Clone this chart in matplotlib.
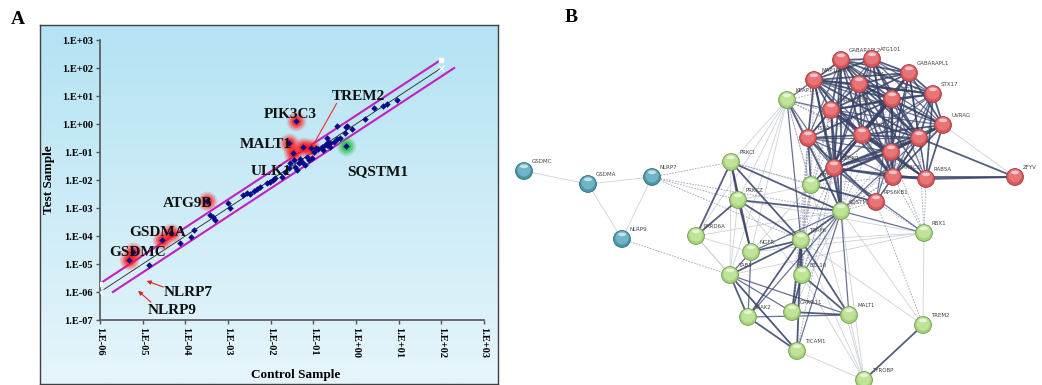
import matplotlib.pyplot as plt
import numpy as np
from matplotlib.patches import Circle, Ellipse
from matplotlib.colors import LinearSegmentedColormap

W, H = 1042, 385
plt.rcParams['font.family'] = ['Liberation Serif', 'DejaVu Serif']

# ---------------- A: control vs test expression (log10 values) ----------------
ctrl_log10 = [-4.84, -4.12, -3.86, -3.79, -3.43, -3.34, -3.30, -2.99, -2.95, -2.64,
              -2.56, -2.48, -2.40, -2.32, -2.26, -2.08, -2.01, -1.94, -1.89, -1.74,
              -1.66, -1.58, -1.54, -1.46, -1.42, -1.38, -1.34, -1.31, -1.27, -1.20,
              -1.16, -1.11, -1.03, -0.99, -0.93, -0.90, -0.80, -0.77, -0.72, -0.69,
              -0.66, -0.60, -0.60, -0.52, -0.68, -0.44, -0.44, -0.38, -0.25, -0.21,
              -0.23, -0.09, 0.20, 0.42, 0.64, 0.72, 0.95]
test_log10 = [-5.04, -4.24, -4.05, -3.79, -3.25, -3.31, -3.43, -2.81, -3.01, -2.54,
              -2.48, -2.50, -2.40, -2.32, -2.26, -2.10, -2.06, -2.00, -1.94, -1.88,
              -1.70, -1.58, -1.40, -1.29, -1.52, -1.64, -1.40, -1.26, -1.35, -1.45,
              -1.17, -1.29, -1.23, -0.99, -0.85, -0.90, -0.81, -0.93, -0.75, -0.75,
              -0.63, -0.69, -0.81, -0.63, -0.51, -0.55, -0.07, -0.51, -0.33, -0.07,
              -0.10, -0.19, 0.17, 0.56, 0.64, 0.70, 0.87]

# up-regulated genes (red glow) and down-regulated (green glow)
up_ctrl_log10 = [-5.31, -5.22, -4.55, -4.34, -3.50, -1.40, -1.58, -1.48, -1.25, -1.05]
up_test_log10 = [-4.86, -4.56, -4.13, -3.90, -2.74, 0.12, -0.69, -1.03, -0.82, -0.86]
down_ctrl_log10 = [-0.23]
down_test_log10 = [-0.80]

fold = 2
x_decades = list(range(-6, 4))
y_decades = list(range(-7, 4))

# gene labels and where they sit (figure pixels)
gene_labels = ['PIK3C3', 'TREM2', 'MALT1', 'ULK1', 'SQSTM1', 'ATG9B', 'GSDMA', 'GSDMC', 'NLRP7', 'NLRP9']
label_px = [(290, 114), (358, 96), (266, 144), (271, 172), (378, 172), (188, 204),
            (158, 233), (138, 253), (188, 293), (172, 311)]


def fp(x, y):
    return (x / W, 1 - y / H)


fig = plt.figure(figsize=(W / 100, H / 100), dpi=100)

# gradient panel behind A
bg = fig.add_axes([40 / W, 1 / H, 458 / W, 359 / H])
grad = np.linspace(0, 1, 256).reshape(-1, 1)
cmap = LinearSegmentedColormap.from_list('sky', ['#b4e3f3', '#e6f5fb'])
bg.imshow(grad, aspect='auto', cmap=cmap, extent=[0, 1, 0, 1])
bg.set_xticks([])
bg.set_yticks([])
for s in bg.spines.values():
    s.set_color('#404040')
    s.set_linewidth(1)

ax = fig.add_axes([100 / W, 1 - 320 / H, 384 / W, 280 / H])
ax.patch.set_visible(False)
ax.set_xscale('log')
ax.set_yscale('log')
ax.set_xlim(1e-6, 1e3)
ax.set_ylim(1e-7, 1e3)
for side in ['top', 'right']:
    ax.spines[side].set_visible(False)
for side in ['left', 'bottom']:
    ax.spines[side].set_color('#555555')
    ax.spines[side].set_linewidth(1.2)
ax.set_xticks([10.0 ** e for e in x_decades])
ax.set_xticklabels(['1.E{:+03d}'.format(e) for e in x_decades], rotation=270,
                   fontsize=7.5, fontweight='bold')
ax.set_yticks([10.0 ** e for e in y_decades])
ax.set_yticklabels(['1.E{:+03d}'.format(e) for e in y_decades], fontsize=7.5, fontweight='bold')
ax.minorticks_off()
ax.tick_params(direction='out', length=3, width=1, color='#555555', pad=2)

ax.set_xlabel('Control Sample', fontsize=9.5, fontweight='bold')
ax.xaxis.set_label_coords(0.51, -0.175)
ax.set_ylabel('Test Sample', fontsize=9.5, fontweight='bold')
ax.yaxis.set_label_coords(-0.118, 0.5)

# diagonal and fold-change boundaries
lo, hi = 1e-6, 1e2
ax.plot([lo, hi], [lo, hi], color='#222222', lw=0.6, zorder=2)
ax.plot([lo, hi], [lo * fold, hi * fold], color='#c21fc2', lw=1.5, zorder=2)
ax.plot([lo * fold, hi * fold], [lo, hi], color='#c21fc2', lw=1.5, zorder=2)
ax.plot([lo, hi], [lo, hi], ls='none', marker='x', ms=5, mew=0.8, color='white', zorder=3)
ax.plot([lo, hi], [lo * fold, hi * fold], ls='none', marker='s', ms=3.5, color='white', zorder=3)

ux = 10.0 ** np.array(up_ctrl_log10)
uy = 10.0 ** np.array(up_test_log10)
dx = 10.0 ** np.array(down_ctrl_log10)
dy = 10.0 ** np.array(down_test_log10)
for s, a in [(200, 0.15), (140, 0.25), (85, 0.4), (45, 0.6)]:
    ax.scatter(ux, uy, s=s, color='#ff1a1a', alpha=a, lw=0, zorder=3)
    ax.scatter(dx, dy, s=s, color='#1fbf3f', alpha=a, lw=0, zorder=3)

ax.scatter(10.0 ** np.array(ctrl_log10), 10.0 ** np.array(test_log10), marker='D', s=11,
           color='#0a0a8a', lw=0, zorder=4)
ax.scatter(ux, uy, marker='D', s=11, color='#0a0a8a', lw=0, zorder=4)
ax.scatter(dx, dy, marker='D', s=11, color='#0a0a8a', lw=0, zorder=4)

for name, (px, py) in zip(gene_labels, label_px):
    fig.text(*fp(px, py), name, ha='center', va='center', fontsize=11, fontweight='bold',
             color='#111111')

ax.annotate('', xy=fp(312, 147), xytext=fp(338, 101), xycoords='figure fraction',
            textcoords='figure fraction', arrowprops=dict(arrowstyle='-', color='#ff2a2a', lw=0.8))
ax.annotate('', xy=fp(144, 280), xytext=fp(166, 288), xycoords='figure fraction',
            textcoords='figure fraction',
            arrowprops=dict(arrowstyle='-|>', color='#e82020', lw=0.8, mutation_scale=6))
ax.annotate('', xy=fp(136, 289), xytext=fp(153, 304), xycoords='figure fraction',
            textcoords='figure fraction',
            arrowprops=dict(arrowstyle='-|>', color='#e82020', lw=0.8, mutation_scale=6))

fig.text(*fp(18, 19), 'A', fontsize=14, fontweight='bold', ha='center', va='center')
fig.text(*fp(571, 18), 'B', fontsize=14, fontweight='bold', ha='center', va='center')

# ---------------- B: STRING interaction network ----------------
layout = {
    'GSDMC': (524, 171), 'GSDMA': (588, 184), 'NLRP7': (652, 177), 'NLRP9': (622, 239),
    'PRKCI': (731, 162), 'PRKCZ': (738, 200), 'PARD6A': (696, 236), 'NGFR': (751, 252),
    'TRAF6': (801, 240), 'TAB1': (730, 275), 'BCL10': (802, 275), 'IRAK2': (748, 317),
    'CARD11': (792, 312), 'MALT1': (849, 315), 'TICAM1': (797, 351), 'TYROBP': (864, 380),
    'TREM2': (923, 325), 'RBX1': (924, 233), 'SQSTM1': (841, 211), 'MTOR': (811, 185),
    'KEAP1': (787, 100),
    'GABARAPL2': (841, 60), 'ATG101': (872, 59), 'GABARAPL1': (909, 73), 'MAP1LC3A': (814, 80),
    'ATG14': (859, 84), 'ATG13': (892, 99), 'STX17': (933, 94), 'MAP1LC3B': (831, 110),
    'UVRAG': (943, 125), 'TSC2': (808, 138), 'PIK3R4': (862, 135), 'ULK1': (919, 138),
    'RB1CC1': (891, 152), 'BECN1': (834, 168), 'PIK3C3': (893, 177), 'RAB5A': (926, 179),
    'RPS6KB1': (876, 202), 'ZFYVE26': (1015, 177),
}
# the figure edge crops this label
shown_label = {'ZFYVE26': 'ZFYV'}
blue_nodes = ['GSDMC', 'GSDMA', 'NLRP7', 'NLRP9']
red_nodes = ['GABARAPL2', 'ATG101', 'GABARAPL1', 'MAP1LC3A', 'ATG14', 'ATG13', 'STX17',
             'MAP1LC3B', 'UVRAG', 'TSC2', 'PIK3R4', 'ULK1', 'RB1CC1', 'BECN1', 'PIK3C3',
             'RAB5A', 'RPS6KB1', 'ZFYVE26']

strong_edges = """
BECN1 PIK3C3 PIK3R4 ATG14 UVRAG RB1CC1 ULK1 MAP1LC3A MAP1LC3B GABARAPL2 ATG13 GABARAPL1 RAB5A
PIK3C3 PIK3R4 ATG14 UVRAG RB1CC1 RAB5A ZFYVE26 ULK1 ATG13 MAP1LC3B
PIK3R4 ATG14 UVRAG RB1CC1 ULK1 MAP1LC3A MAP1LC3B ATG13 GABARAPL2 RAB5A
ULK1 ATG13 ATG101 RB1CC1 MAP1LC3A MAP1LC3B GABARAPL1 GABARAPL2 ATG14 STX17 UVRAG ZFYVE26
ATG13 ATG101 RB1CC1 MAP1LC3A MAP1LC3B GABARAPL1 GABARAPL2 ATG14 STX17 TSC2
ATG101 RB1CC1 GABARAPL1 GABARAPL2 MAP1LC3A ATG14
MAP1LC3A MAP1LC3B GABARAPL2 GABARAPL1 ATG14 TSC2 STX17
MAP1LC3B GABARAPL2 GABARAPL1 ATG14 RB1CC1 STX17 TSC2
GABARAPL1 GABARAPL2 STX17 ATG14 RB1CC1 UVRAG
GABARAPL2 STX17 ATG14
STX17 UVRAG ATG14 RAB5A
UVRAG RAB5A RB1CC1 ATG14
RAB5A ZFYVE26 RB1CC1
TSC2 RPS6KB1 MTOR PIK3R4
MTOR ULK1 ATG13 RPS6KB1 RB1CC1
SQSTM1 KEAP1 MAP1LC3A MAP1LC3B GABARAPL2 TRAF6 PRKCI PRKCZ
PRKCI PRKCZ PARD6A TRAF6 NGFR
PRKCZ PARD6A TRAF6 NGFR
TRAF6 NGFR TAB1 BCL10 CARD11 MALT1 IRAK2 TICAM1
BCL10 CARD11 MALT1
CARD11 MALT1
TAB1 IRAK2 TICAM1
IRAK2 TICAM1
TREM2 TYROBP
"""
medium_edges = """
RPS6KB1 ULK1 PIK3C3 BECN1 RB1CC1 ATG13
TSC2 ULK1 BECN1 RB1CC1 GABARAPL2 ATG101 PIK3C3
MAP1LC3A RB1CC1 UVRAG PIK3C3
MAP1LC3B UVRAG PIK3C3 RAB5A
GABARAPL2 UVRAG PIK3C3 RAB5A
ATG101 UVRAG PIK3R4 BECN1 STX17 PIK3C3
ATG14 RAB5A RB1CC1
STX17 RB1CC1 PIK3C3 BECN1 PIK3R4
ATG13 UVRAG PIK3C3 RAB5A
GABARAPL1 PIK3C3 RAB5A PIK3R4
ULK1 RAB5A
KEAP1 SQSTM1 TRAF6 BECN1 MAP1LC3B
RBX1 BECN1 SQSTM1
SQSTM1 ULK1 BECN1 BCL10 MALT1 TICAM1 IRAK2 NGFR
TAB1 MALT1 CARD11 NGFR
IRAK2 MALT1
NGFR IRAK2
MAP1LC3A KEAP1
"""
weak_edges = """
GSDMC GSDMA
GSDMA NLRP7 NLRP9
NLRP7 NLRP9
UVRAG ZFYVE26
TYROBP TICAM1 SQSTM1 TRAF6 BCL10 KEAP1 MALT1
TREM2 SQSTM1 TRAF6 RBX1
RBX1 TRAF6 PRKCZ NGFR TAB1
PARD6A TAB1 NGFR TICAM1
PRKCI KEAP1 MTOR TAB1
PRKCZ KEAP1 MTOR BCL10 TAB1
KEAP1 TAB1 NGFR PARD6A
MTOR TRAF6 TAB1
SQSTM1 PARD6A CARD11
"""
dashed_edges = """
NLRP7 PRKCI TRAF6 SQSTM1 PRKCZ
NLRP9 TAB1
KEAP1 MAP1LC3A TSC2 BECN1 PIK3R4 ULK1 MTOR GABARAPL2 ATG14 RB1CC1
MTOR BECN1 PIK3C3 TSC2 MAP1LC3B PIK3R4 MAP1LC3A ATG14
SQSTM1 BECN1 PIK3C3 RPS6KB1 RB1CC1 ATG14 TSC2 PIK3R4 ATG13 UVRAG
TRAF6 BECN1 MTOR TSC2 PIK3C3 MAP1LC3B
CARD11 BECN1 MTOR TSC2
TICAM1 BECN1 TSC2
BCL10 MTOR BECN1 TSC2
RBX1 RAB5A PIK3C3 RB1CC1 RPS6KB1 ULK1
PRKCI MTOR RPS6KB1
TREM2 RPS6KB1
"""

net = fig.add_axes([500 / W, 0, 542 / W, 1])
net.set_xlim(500, 1042)
net.set_ylim(385, 0)
net.axis('off')

seen = set()
edge_sets = {}
for key, block in [('strong', strong_edges), ('medium', medium_edges),
                   ('weak', weak_edges), ('dashed', dashed_edges)]:
    edge_sets[key] = []
    for row in block.strip().splitlines():
        names = row.split()
        for other in names[1:]:
            pair = frozenset((names[0], other))
            if pair in seen:
                continue
            seen.add(pair)
            edge_sets[key].append((names[0], other))

edge_style = {
    'weak': dict(color='#c6c9d4', lw=0.6, ls='-', zorder=1),
    'dashed': dict(color='#8d95b0', lw=0.6, ls=(0, (2, 1.5)), zorder=2),
    'medium': dict(color='#4f5a82', lw=0.9, ls='-', zorder=3),
    'strong': dict(color='#384268', lw=1.3, ls='-', zorder=4),
}
for key in ['weak', 'dashed', 'medium', 'strong']:
    st = edge_style[key]
    for a, b in edge_sets[key]:
        (x1, y1), (x2, y2) = layout[a], layout[b]
        net.plot([x1, x2], [y1, y2], color=st['color'], lw=st['lw'], ls=st['ls'],
                 alpha=0.85, zorder=st['zorder'], solid_capstyle='round')

for name, (x, y) in layout.items():
    if name in red_nodes:
        edge_c, base_c, top_c = '#a84346', '#d9575b', '#ee8285'
    elif name in blue_nodes:
        edge_c, base_c, top_c = '#3b7585', '#4b98ab', '#80c2d1'
    else:
        edge_c, base_c, top_c = '#7da35a', '#a6d47b', '#cbeba6'
    net.add_patch(Circle((x, y), 8.4, fc=base_c, ec=edge_c, lw=0.7, zorder=6))
    net.add_patch(Circle((x, y - 1.2), 6.6, fc=top_c, ec='none', alpha=0.7, zorder=6))
    net.add_patch(Ellipse((x, y - 4.6), 8, 3.6, fc='white', ec='none', alpha=0.6, zorder=6))
    net.text(x + 8, y - 9.5, shown_label.get(name, name), fontsize=4, color='#444444',
             family='DejaVu Sans', ha='left', va='center', zorder=5)

plt.savefig('out.png', dpi=100)
